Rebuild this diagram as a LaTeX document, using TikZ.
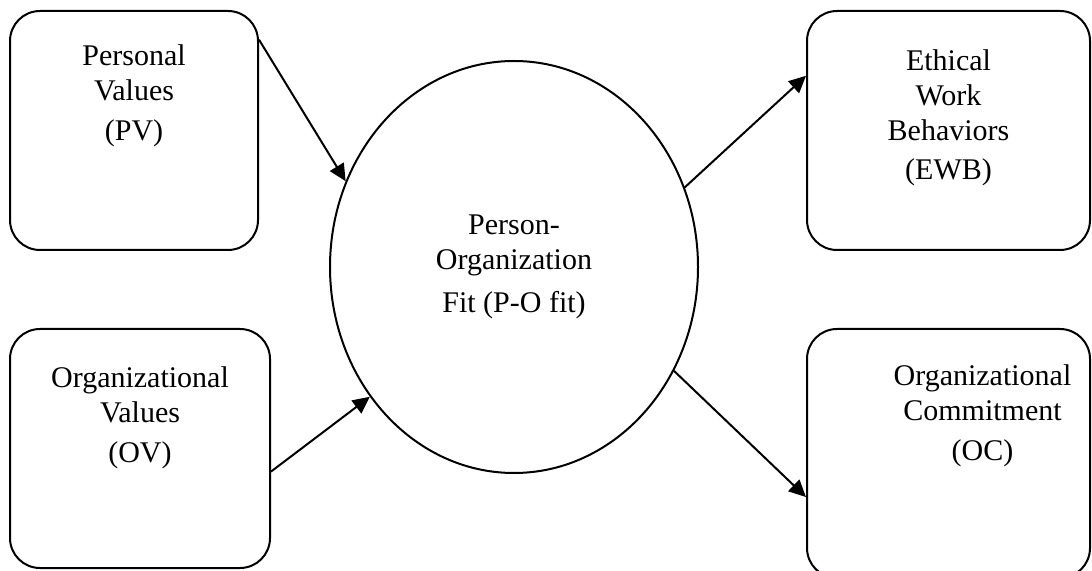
\documentclass[tikz,border=0pt]{standalone}
\usepackage{fontspec}
\setmainfont{Liberation Serif}
\usetikzlibrary{arrows.meta,shapes.geometric}
\tikzset{>={Triangle[length=8.5pt,width=8pt]}}

\begin{document}
\begin{tikzpicture}[x=0.5pt,y=-0.5pt,line width=1pt,font=\fontsize{15}{17.5}\selectfont]

\tikzstyle{box}=[draw,rounded corners=15pt,inner sep=0pt,minimum height=119.5pt]
\tikzstyle{lab}=[anchor=north,align=center,inner sep=0pt]

\useasboundingbox (0,0) rectangle (1092,571);

 \node[box,minimum width=124pt,
   label={[lab,yshift=-17pt]north:Personal\\Values\\[2.5pt](PV)}] (pv) at (134,130.5) {};
 \node[box,minimum width=130pt,
   label={[lab,yshift=-19pt]north:Organizational\\Values\\[2.5pt](OV)}] (ov) at (140,448.5) {};
 \node[box,minimum width=141.5pt,
   label={[lab,yshift=-19.5pt]north:Ethical\\Work\\Behaviors\\[2pt](EWB)}] (ewb) at (948.5,130.5) {};
 \node[box,minimum width=141.5pt,minimum height=124.5pt,
   label={[lab,yshift=-18pt,xshift=17pt]north:Organizational\\Commitment\\[2.5pt](OC)}] (oc) at (948.5,453.5) {};

 \node[draw,ellipse,inner sep=0pt,minimum width=184pt,minimum height=206pt,align=center]
   (fit) at (514,267) {Person-\\Organization\\[4pt]Fit (P-O fit)};

 \draw[->] (pv.36.7) -- (fit.153);
 \draw[->] (ov.-10.7) -- (fit.222);
 \draw[->] (fit.25.5) -- (ewb.159.4);
 \draw[->] (fit.-33.5) -- (oc.197.3);
\end{tikzpicture}
\end{document}
